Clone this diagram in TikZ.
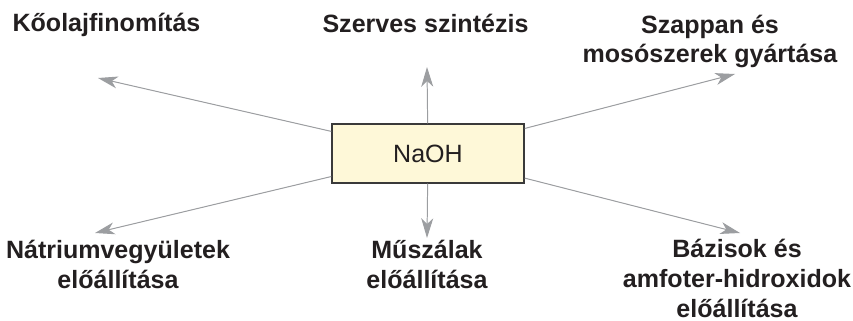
\documentclass[tikz,border=0pt]{standalone}
\usepackage{fontspec}
\setmainfont{Liberation Sans}
\usetikzlibrary{arrows.meta}
\definecolor{boxfill}{HTML}{FEF8D8}
\definecolor{boxline}{HTML}{3A3A3A}
\definecolor{arrgray}{HTML}{9C9EA1}
\definecolor{txt}{HTML}{231F20}

\begin{document}
\begin{tikzpicture}[x=0.025cm,y=-0.025cm,
    lab/.style={anchor=base,align=center,inner sep=0pt,text=txt,font=\fontsize{17.8}{21.3}\selectfont\bfseries},
    arr/.style={-{Stealth[length=14pt,width=8.5pt,inset=4pt]},line width=0.7pt,draw=arrgray,fill=arrgray}]
  \useasboundingbox (0,0) rectangle (853,321);
  \node[draw=boxline,line width=1.05pt,fill=boxfill,minimum width=4.8cm,minimum height=1.475cm,inner sep=0pt,text=txt,font=\fontsize{17.8}{21.3}\selectfont] (naoh) at (428,153.5) {NaOH};
  % labels (base = last line)
  \node[lab] (l1) at (106.5,32) {Kőolajfinomítás};
  \node[lab] (l2) at (425.5,33) {Szerves szintézis};
  \node[lab] (l3) at (710,63) {Szappan és\\mosószerek gyártása};
  \node[lab] (l4) at (118,288) {Nátriumvegyületek\\előállítása};
  \node[lab] (l5) at (427,288) {Műszálak\\előállítása};
  \node[lab] (l6) at (737,317) {Bázisok és\\amfoter-hidroxidok\\előállítása};
  % arrow tips
  \coordinate (t1) at (98,78);
  \coordinate (t2) at (427,67);
  \coordinate (t3) at (735,74);
  \coordinate (t4) at (95,233);
  \coordinate (t5) at (427,238);
  \coordinate (t6) at (740,233);
  \foreach \t in {t1,t2,t3,t4,t5,t6}
    \draw[arr] (naoh) -- (\t);
\end{tikzpicture}
\end{document}
